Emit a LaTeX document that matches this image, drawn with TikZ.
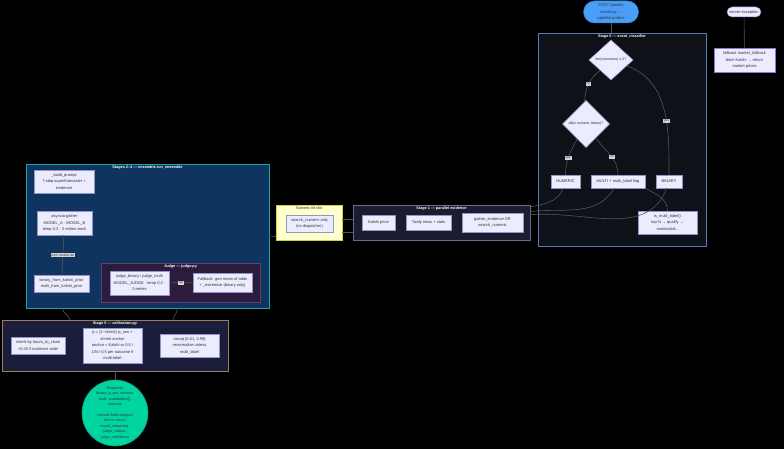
\documentclass[tikz,border=0pt]{standalone}
\usepackage{fontspec}
\setmainfont{Liberation Sans}
\usepackage{tikz}
\usetikzlibrary{shapes.geometric}

\definecolor{boxfill}{HTML}{ECECFF}
\definecolor{boxline}{HTML}{9494C8}
\definecolor{txtdark}{HTML}{333333}
\definecolor{wire}{HTML}{555555}
\definecolor{lblfill}{HTML}{D4D4D4}
\definecolor{postfill}{HTML}{4A9EF8}
\definecolor{postline}{HTML}{2F7FD8}
\definecolor{excline}{HTML}{9370DB}
\definecolor{szerofill}{HTML}{0E1118}
\definecolor{szeroline}{HTML}{5C7DB4}
\definecolor{sonefill}{HTML}{1A1D30}
\definecolor{soneline}{HTML}{666C8A}
\definecolor{sensfill}{HTML}{0F3460}
\definecolor{sensline}{HTML}{1AA6A6}
\definecolor{judgefill}{HTML}{2B1B3D}
\definecolor{judgeline}{HTML}{5E3F72}
\definecolor{sfivefill}{HTML}{1A1E3A}
\definecolor{sfiveline}{HTML}{9C7E58}
\definecolor{slotfill}{HTML}{FFFFCC}
\definecolor{slotline}{HTML}{D6D23A}
\definecolor{respfill}{HTML}{00D4A0}
\definecolor{respline}{HTML}{0B9C77}

\tikzset{
  box/.style={rectangle, draw=boxline, fill=boxfill, text=txtdark, line width=0.5pt,
    font=\fontsize{4}{6.5}\selectfont, align=center, inner sep=1pt, outer sep=0pt},
  decision/.style={diamond, draw=boxline, fill=boxfill, text=txtdark, line width=0.5pt,
    font=\fontsize{3.6}{5}\selectfont, align=center, inner sep=0pt, outer sep=0pt},
  cluster/.style={rectangle, line width=0.6pt, anchor=north west, inner sep=0pt, outer sep=0pt},
  ctitle/.style={text=white, font=\bfseries\fontsize{3.8}{5}\selectfont, anchor=north, inner sep=1.5pt},
  elabel/.style={fill=lblfill, text=txtdark, font=\fontsize{3.2}{4}\selectfont, inner sep=1pt},
  link/.style={draw=wire, line width=0.6pt},
}

\begin{document}
\begin{tikzpicture}[x=1pt,y=1pt]
	\fill[black] (0,0) rectangle (784,-449);
	\useasboundingbox (0,0) rectangle (784,-449);

	% clusters
	\node[cluster, fill=szerofill, draw=szeroline, minimum width=168pt, minimum height=213pt] (stage0) at (538,-33) {};
	\node[ctitle] (t0) at (stage0.north) {Stage 0 — event\_classifier};
	\node[cluster, fill=sonefill, draw=soneline, minimum width=177pt, minimum height=35pt] (stage1) at (353,-205) {};
	\node[ctitle] (t1) at (stage1.north) {Stage 1 — parallel evidence};
	\node[cluster, fill=slotfill, draw=slotline, minimum width=66pt, minimum height=35pt] (slot) at (276,-205) {};
	\node[ctitle, text=txtdark, font=\fontsize{3.8}{5}\selectfont] (tslot) at (slot.north) {Numeric tilt slot};
	\node[cluster, fill=sensfill, draw=sensline, minimum width=243pt, minimum height=144pt] (stage24) at (26,-164) {};
	\node[ctitle] (t24) at (stage24.north) {Stages 2–4 — ensemble.run\_ensemble};
	\node[cluster, fill=judgefill, draw=judgeline, minimum width=159pt, minimum height=39pt] (judgebox) at (101,-263) {};
	\node[ctitle] (tj) at (judgebox.north) {Judge — judge.py};
	\node[cluster, fill=sfivefill, draw=sfiveline, minimum width=226pt, minimum height=51pt] (stage5) at (2,-320) {};
	\node[ctitle] (t5) at (stage5.north) {Stage 5 — calibration.py};

	% entry and exception path
	\node[box, rounded corners=11pt, fill=postfill, draw=postline, minimum width=55pt, minimum height=22pt] (post) at (611,-12) {POST /predict\\server.py →\\pipeline.predict};
	\node[box, rounded corners=5pt, draw=excline, minimum width=34pt, minimum height=10pt] (exc) at (744,-12) {server exception};
	\node[box, draw=excline, minimum width=61pt, minimum height=24pt] (fbmarket) at (744.5,-60) {fallback market\_fallback\\fetch Kalshi → return\\market prices};

	% stage 0
	\node[decision, minimum width=44pt, minimum height=40pt] (d1) at (611,-60) {len(outcomes) ≤ 2?};
	\node[decision, minimum width=47pt, minimum height=47pt] (d2) at (586,-124) {all(is numeric labels)?};
	\node[box, minimum width=29pt, minimum height=13pt] (numeric) at (565.5,-181.5) {NUMERIC};
	\node[box, minimum width=54pt, minimum height=13pt] (multi) at (618,-181.5) {MULTI + multi\_label flag};
	\node[box, minimum width=26pt, minimum height=13pt] (binary) at (669,-181.5) {BINARY};
	\node[box, minimum width=59pt, minimum height=23pt] (ismulti) at (667.5,-222.5) {is\_multi\_label()\\top-N → qualify →\\nominated...};

	% stage 1
	\node[box, minimum width=33pt, minimum height=15pt] (kalshi) at (378.5,-222.5) {Kalshi price};
	\node[box, minimum width=45pt, minimum height=15pt] (tavily) at (428.5,-222.5) {Tavily news + stats};
	\node[box, minimum width=61pt, minimum height=19pt] (gatherev) at (492.5,-222.5) {gather\_evidence OR\\search\_numeric};
	\node[box, minimum width=47pt, minimum height=17pt] (searchnum) at (309.5,-223.5) {search\_numeric only\\(no dispatcher)};

	% stages 2-4
	\node[box, minimum width=60pt, minimum height=23pt] (build) at (64,-181.5) {\_build\_prompt\\7-step superforecaster +\\evidence};
	\node[box, minimum width=55pt, minimum height=24pt] (gather) at (64.5,-223) {asyncio.gather\\MODEL\_A · MODEL\_B\\temp 0.3 · 3 retries each};
	\node[box, minimum width=55pt, minimum height=17pt] (prior) at (61.5,-283.5) {binary\_from\_kalshi\_prior\\multi\_from\_kalshi\_prior};
	\node[box, minimum width=59pt, minimum height=24pt] (judge) at (139.5,-283) {judge\_binary / judge\_multi\\MODEL\_JUDGE · temp 0.2 ·\\3 retries};
	\node[box, minimum width=59pt, minimum height=19pt] (fbjudge) at (222.5,-282.5) {Fallback: geo mean of odds\\+ \_extremize (binary only)};

	% stage 5
	\node[box, minimum width=54pt, minimum height=17pt] (shrink) at (38,-345.5) {shrink by hours\_to\_close\\×0.33 if evidence stale};
	\node[box, minimum width=59pt, minimum height=35pt] (blend) at (112.5,-345.5) {p = (1−shrink)·p\_raw +\\shrink·anchor\\anchor = Kalshi or 0.5 /\\1/N / 0.5 per outcome if\\multi-label};
	\node[box, minimum width=59pt, minimum height=23pt] (clamp) at (189.5,-345.5) {clamp [0.01, 0.99]\\renormalize unless\\multi\_label};

	\node[circle, draw=respline, fill=respfill, text=txtdark, line width=0.6pt, minimum size=66pt, inner sep=0pt,
	      font=\fontsize{3.6}{5.4}\selectfont, align=center] (response) at (115,-413)
	      {Response\\Binary: p\_yes, rationale\\Multi: probabilities[],\\rationale\\[5.4pt]internal fields stripped\\before return:\\model\_reasoning,\\judge\_critique,\\judge\_confidence};

	\path[link] (post) edge (post |- stage0.north);
	\path[link] (exc) edge (fbmarket);
	\path[link] (d1) edge[bend right=25] node[elabel]{no} (d2);
	\path[link] (d1) edge[out=-20, in=90] node[elabel, pos=0.6]{yes} (binary.north);
	\path[link] (d2) edge[out=-120, in=90] node[elabel, pos=0.55]{yes} (numeric.north);
	\path[link] (d2) edge[out=-55, in=90] node[elabel, pos=0.55]{no} (multi.north);
	\path[link] (multi.south east) edge[out=-30, in=90] (ismulti.north);
	\path[link] (numeric) edge[out=-110, in=10] (stage1);
	\path[link] (multi) edge[out=-120, in=7] (stage1);
	\path[link] (binary) edge[out=-110, in=5] (stage1);
	\path[link] ([yshift=3pt]stage1.west) edge ([yshift=3pt]slot.east);
	\path[link] ([yshift=-10pt]stage1.west) edge ([yshift=-10pt]slot.east);
	\path[link] ([yshift=-14pt]slot.west) edge (stage24.east);
	\path[link] (gather) edge node[elabel]{both models fail} (prior);
	\path[link] (judge) edge node[elabel]{fail} (fbjudge);
	\path[link] ([xshift=-85pt]stage24.south) edge[out=-90, in=100] ([xshift=-45pt]stage5.north);
	\path[link] ([xshift=30pt]stage24.south) edge[out=-90, in=80] ([xshift=58pt]stage5.north);
	\path[link] (stage5) edge (response);

\end{tikzpicture}
\end{document}
